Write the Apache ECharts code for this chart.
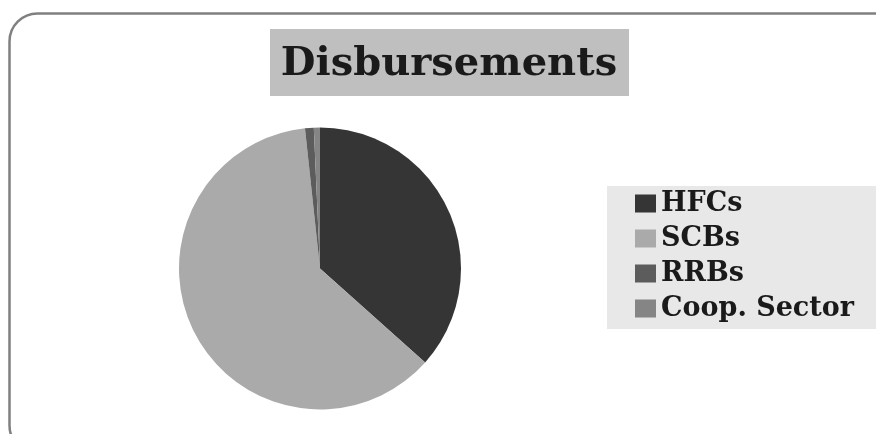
<!DOCTYPE html>
<html>
<head>
<meta charset="utf-8">
<script src="https://cdn.jsdelivr.net/npm/echarts@6/dist/echarts.min.js"></script>
<style>
  html, body { margin: 0; padding: 0; background: #ffffff; }
  #chart { width: 876px; height: 434px; }
</style>
</head>
<body>
<div id="chart"></div>
<script>
// Share of disbursements by lender type (%)
const categories = ['HFCs', 'SCBs', 'RRBs', 'Coop. Sector'];
const shares = [36.6, 61.7, 1.0, 0.7];
const sliceColors = ['#353535', '#aaaaaa', '#5c5c5c', '#858585'];
const chartTitle = 'Disbursements';

const serif = '"DejaVu Serif", "Liberation Serif", serif';

const chart = echarts.init(document.getElementById('chart'), null, { renderer: 'canvas' });

chart.setOption({
  animation: false,
  backgroundColor: '#ffffff',
  graphic: [
    {
      // rounded frame around the whole chart
      type: 'rect',
      z: 0,
      shape: { x: 9.5, y: 13.5, width: 900, height: 440, r: 28 },
      style: { fill: 'none', stroke: '#808080', lineWidth: 2.5 }
    },
    {
      type: 'rect',
      z: 1,
      shape: { x: 270, y: 29, width: 359, height: 67 },
      style: { fill: '#bfbfbf' }
    },
    {
      type: 'text',
      z: 2,
      style: {
        text: chartTitle,
        x: 449,
        y: 64.5,
        align: 'center',
        verticalAlign: 'middle',
        font: 'bold 40px ' + serif,
        fill: '#1a1a1a'
      }
    },
    {
      type: 'rect',
      z: 1,
      shape: { x: 607, y: 186, width: 269, height: 143 },
      style: { fill: '#e8e8e8' }
    }
  ],
  legend: {
    orient: 'vertical',
    left: 630,
    top: 190,
    padding: [0, 0, 0, 5],
    itemWidth: 21,
    itemHeight: 18,
    itemGap: 8,
    icon: 'rect',
    data: categories,
    textStyle: {
      fontFamily: serif,
      fontWeight: 'bold',
      fontSize: 27,
      lineHeight: 27,
      color: '#1a1a1a'
    },
    z: 3
  },
  series: [
    {
      type: 'pie',
      center: [320, 268.5],
      radius: 141,
      startAngle: 90,
      clockwise: true,
      label: { show: false },
      labelLine: { show: false },
      emphasis: { disabled: true },
      itemStyle: { borderWidth: 0 },
      data: categories.map((name, i) => ({
        name: name,
        value: shares[i],
        itemStyle: { color: sliceColors[i] }
      }))
    }
  ]
});
</script>
</body>
</html>
